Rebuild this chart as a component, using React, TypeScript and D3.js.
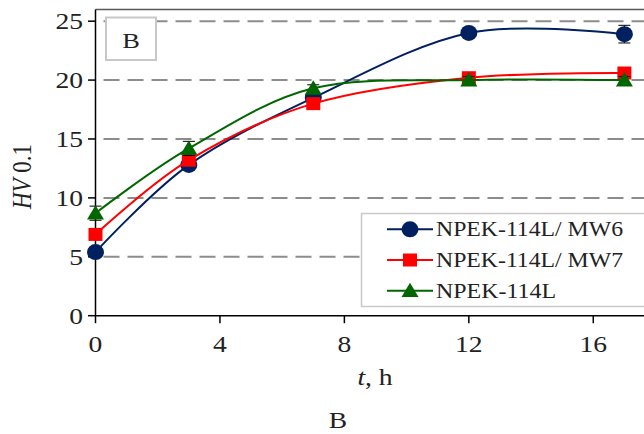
import React from "react";
import * as d3 from "d3";

const times = [0, 3, 7, 12, 17];
const seriesNames = ["NPEK-114L/ MW6", "NPEK-114L/ MW7", "NPEK-114L"];
const mw6Values = [5.4, 12.8, 18.5, 24.0, 23.9];
const mw7Values = [6.9, 13.2, 18.0, 20.2, 20.6];
const baseValues = [8.7, 14.2, 19.3, 20.0, 20.0];
const mw6Errors = [0.3, 0.3, 0.3, 0.3, 0.75];
const mw7Errors = [0.3, 0.3, 0.3, 0.3, 0.3];
const baseErrors = [0.6, 0.6, 0.3, 0.3, 0.3];
const xTicks = [0, 4, 8, 12, 16];
const yTicks = [0, 5, 10, 15, 20, 25];
const gridValues = [5, 10, 15, 20, 25];

const FONT = "'Liberation Serif', 'Times New Roman', serif";
const SX = 1.2;

function Txt(props: any) {
  const { x, y, anchor, size, children, rotate, ...rest } = props;
  const tr = rotate
    ? `translate(${x},${y}) scale(${SX},1) rotate(${rotate})`
    : `translate(${x},${y}) scale(${SX},1)`;
  return (
    <text transform={tr} textAnchor={anchor || "start"} fontSize={size || 23} fill="#222" {...rest}>
      {children}
    </text>
  );
}

export default function App() {
  const W = 644;
  const H = 434;
  const x = d3.scaleLinear().domain([0, 18]).range([95.5, 655.5]);
  const y = d3.scaleLinear().domain([0, 26]).range([315.7, 9.4]);
  const line = d3
    .line<[number, number]>()
    .x((d) => x(d[0]))
    .y((d) => y(d[1]))
    .curve(d3.curveCardinal.tension(0));

  const series = [
    { name: seriesNames[0], values: mw6Values, errors: mw6Errors, color: "#002060", marker: "circle", len: 187 },
    { name: seriesNames[1], values: mw7Values, errors: mw7Errors, color: "#ff0000", marker: "square", len: 187 },
    { name: seriesNames[2], values: baseValues, errors: baseErrors, color: "#006600", marker: "triangle", len: 120 },
  ];

  const marker = (kind: string, cx: number, cy: number, color: string, key?: any) => {
    if (kind === "circle") return <ellipse key={key} cx={cx} cy={cy} rx={8.5} ry={8} fill={color} />;
    if (kind === "square")
      return <rect key={key} x={cx - 7} y={cy - 6.5} width={14} height={13} fill={color} />;
    const s = 8;
    return (
      <path
        key={key}
        d={`M${cx},${cy - s}L${cx + s + 0.5},${cy + s * 0.8}L${cx - s - 0.5},${cy + s * 0.8}Z`}
        fill={color}
      />
    );
  };

  const legendX = 387;
  const legendRows = [229.3, 260, 290.7];

  return (
    <svg
      width={W}
      height={H}
      style={{ position: "absolute", left: 0, top: 0, background: "#fff" }}
      fontFamily={FONT}
    >
      <rect x={0} y={0} width={W} height={H} fill="#fff" />
      {gridValues.map((v) => (
        <line
          key={v}
          x1={x(0)}
          x2={W + 10}
          y1={y(v)}
          y2={y(v)}
          stroke="#8c8c8c"
          strokeWidth={2}
          strokeDasharray="16,8"
          strokeDashoffset={-8}
        />
      ))}
      <line x1={x(0)} x2={W + 10} y1={y(26)} y2={y(26)} stroke="#595959" strokeWidth={1.5} />
      <line x1={x(0)} x2={x(0)} y1={y(26)} y2={y(0)} stroke="#000" strokeWidth={1.5} />
      <line x1={x(0)} x2={W + 10} y1={y(0)} y2={y(0)} stroke="#000" strokeWidth={1.5} />
      {yTicks.map((v) => (
        <g key={v}>
          <line x1={88} x2={x(0)} y1={y(v)} y2={y(v)} stroke="#000" strokeWidth={1.5} />
          <Txt x={83} y={y(v) + 8} anchor="end">
            {v}
          </Txt>
        </g>
      ))}
      {xTicks.map((v) => (
        <g key={v}>
          <line x1={x(v)} x2={x(v)} y1={y(0)} y2={y(0) + 7.5} stroke="#000" strokeWidth={1.5} />
          <Txt x={x(v)} y={352} anchor="middle">
            {v}
          </Txt>
        </g>
      ))}
      {series.map((s) => (
        <g key={s.name}>
          <path
            d={line(times.map((t, i) => [t, s.values[i]] as [number, number])) || ""}
            fill="none"
            stroke={s.color}
            strokeWidth={2}
          />
          {times.map((t, i) => (
            <g key={t}>
              <line
                x1={x(t)}
                x2={x(t)}
                y1={y(s.values[i] - s.errors[i])}
                y2={y(s.values[i] + s.errors[i])}
                stroke="#000"
                strokeWidth={1}
              />
              <line
                x1={x(t) - 6}
                x2={x(t) + 6}
                y1={y(s.values[i] + s.errors[i])}
                y2={y(s.values[i] + s.errors[i])}
                stroke="#000"
                strokeWidth={1}
              />
              <line
                x1={x(t) - 6}
                x2={x(t) + 6}
                y1={y(s.values[i] - s.errors[i])}
                y2={y(s.values[i] - s.errors[i])}
                stroke="#000"
                strokeWidth={1}
              />
            </g>
          ))}
          {times.map((t, i) => marker(s.marker, x(t), y(s.values[i]), s.color, t))}
        </g>
      ))}
      <rect x={106} y={17.5} width={50} height={42.5} fill="#fff" stroke="#c8c8c8" strokeWidth={2} />
      <Txt x={131} y={47.5} anchor="middle" size={22}>
        B
      </Txt>
      <rect x={361.5} y={213.5} width={300} height={93} fill="#fff" stroke="#c8c8c8" strokeWidth={1.5} />
      {series.map((s, i) => (
        <g key={s.name}>
          <line
            x1={legendX}
            x2={legendX + 46}
            y1={legendRows[i]}
            y2={legendRows[i]}
            stroke={s.color}
            strokeWidth={2}
          />
          {marker(s.marker, legendX + 23, legendRows[i], s.color)}
          <text
            x={legendX + 49}
            y={legendRows[i] + 7}
            fontSize={22}
            textLength={s.len}
            lengthAdjust="spacingAndGlyphs"
            fill="#222"
          >
            {s.name}
          </text>
        </g>
      ))}
      <Txt x={31} y={176.5} anchor="middle" rotate={-90}>
        <tspan fontStyle="italic">HV</tspan>
        <tspan> 0.1</tspan>
      </Txt>
      <Txt x={375} y={385} anchor="middle">
        <tspan fontStyle="italic">t</tspan>
        <tspan>, h</tspan>
      </Txt>
      <Txt x={338} y={428} anchor="middle">
        B
      </Txt>
    </svg>
  );
}
